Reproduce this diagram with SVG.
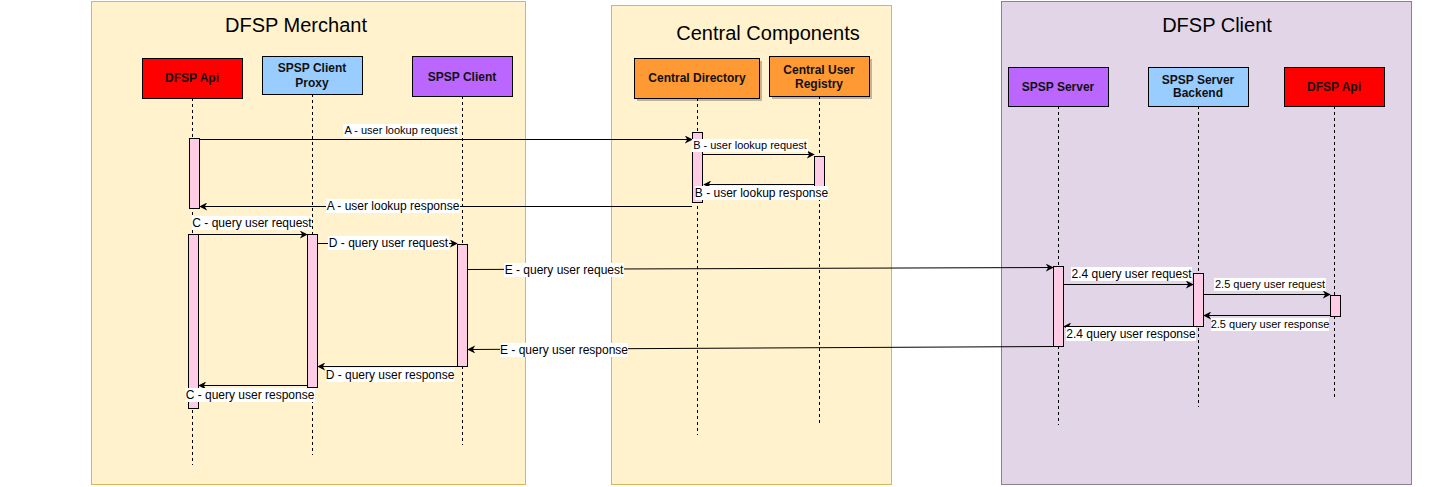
<svg xmlns="http://www.w3.org/2000/svg" width="1438" height="487" viewBox="0 0 1438 487">
<style>
.title{font-family:"Liberation Sans",Arial,sans-serif;font-size:20px;fill:#000;text-anchor:middle}
.nt{font-family:"Liberation Sans",Arial,sans-serif;font-size:12px;font-weight:bold;fill:#111;text-anchor:middle}
.lbl{font-family:"Liberation Sans",Arial,sans-serif;font-size:12px;fill:#000;text-anchor:middle}
.sm{font-size:11px}
.lbg{fill:#fff}
.life{stroke:#000;stroke-width:1;stroke-dasharray:3 3;fill:none}
.bar{fill:#ffcce6;stroke:#000;stroke-width:1}
.msg{stroke:#000;stroke-width:1;fill:none;marker-end:url(#arr)}
.node{stroke:#000;stroke-width:1}
.shadow{fill:#000;opacity:0.25}
</style>
<defs>
<marker id="arr" viewBox="0 0 10 10" refX="9" refY="5" markerWidth="8" markerHeight="8" markerUnits="userSpaceOnUse" orient="auto">
<path d="M0,0 L10,5 L0,10 L3,5 Z" fill="#000"/>
</marker>
</defs>
<rect width="1438" height="487" fill="#fff"/>
<g id="group-merchant">
<rect x="91.5" y="1.5" width="434" height="483" fill="#fff2cc" stroke="#d6b656"/>
<text class="title" x="296" y="32">DFSP Merchant</text>
</g>
<g id="group-central">
<rect x="611.5" y="5.5" width="280" height="479" fill="#fff2cc" stroke="#d6b656"/>
<text class="title" x="768" y="40">Central Components</text>
</g>
<g id="group-client">
<rect x="1001.5" y="1.5" width="410" height="483" fill="#e1d5e7" stroke="#8c7f94"/>
<text class="title" x="1217" y="32">DFSP Client</text>
</g>
<g id="lifelines">
<line class="life" x1="192.5" y1="98" x2="192.5" y2="465"/>
<line class="life" x1="312.5" y1="94" x2="312.5" y2="455"/>
<line class="life" x1="462.5" y1="96" x2="462.5" y2="445"/>
<line class="life" x1="697.5" y1="98" x2="697.5" y2="435"/>
<line class="life" x1="819.5" y1="96" x2="819.5" y2="424"/>
<line class="life" x1="1058.5" y1="106" x2="1058.5" y2="425"/>
<line class="life" x1="1198.5" y1="106" x2="1198.5" y2="407"/>
<line class="life" x1="1334.5" y1="106" x2="1334.5" y2="398"/>
</g>
<g id="node-dfsp-api-merchant">
<rect class="node" x="142.5" y="58.5" width="100" height="40" fill="#ff0000"/>
<text class="nt" x="192" y="82">DFSP Api</text>
</g>
<g id="node-spsp-client-proxy">
<rect class="node" x="262.5" y="56.5" width="100" height="38" fill="#99ccff"/>
<text class="nt" x="312" y="72">SPSP Client</text>
<text class="nt" x="312" y="87">Proxy</text>
</g>
<g id="node-spsp-client">
<rect class="node" x="412.5" y="56.5" width="100" height="40" fill="#bb66ff"/>
<text class="nt" x="462" y="81">SPSP Client</text>
</g>
<g id="node-central-directory">
<rect class="shadow" x="637" y="61" width="125" height="40"/>
<rect class="node" x="634.5" y="58.5" width="125" height="40" fill="#ff9933"/>
<text class="nt" x="697" y="82">Central Directory</text>
</g>
<g id="node-central-user-registry">
<rect class="shadow" x="772" y="59" width="100" height="40"/>
<rect class="node" x="769.5" y="56.5" width="100" height="40" fill="#ff9933"/>
<text class="nt" x="819" y="74">Central User</text>
<text class="nt" x="819" y="88">Registry</text>
</g>
<g id="node-spsp-server">
<rect class="node" x="1008.5" y="67.5" width="100" height="39" fill="#bb66ff"/>
<text class="nt" x="1058" y="91">SPSP Server</text>
</g>
<g id="node-spsp-server-backend">
<rect class="node" x="1148.5" y="67.5" width="100" height="39" fill="#99ccff"/>
<text class="nt" x="1198" y="84">SPSP Server</text>
<text class="nt" x="1198" y="97">Backend</text>
</g>
<g id="node-dfsp-api-client">
<rect class="node" x="1284.5" y="67.5" width="100" height="39" fill="#ff0000"/>
<text class="nt" x="1334" y="91">DFSP Api</text>
</g>
<g id="activations">
<rect class="bar" x="189.5" y="138.5" width="10" height="70"/>
<rect class="bar" x="188.5" y="234.5" width="10" height="174"/>
<rect class="bar" x="307.5" y="234.5" width="10" height="153"/>
<rect class="bar" x="457.5" y="244.5" width="10" height="122"/>
<rect class="bar" x="692.5" y="132.5" width="10" height="70"/>
<rect class="bar" x="814.5" y="156.5" width="10" height="30"/>
<rect class="bar" x="1053.5" y="266.5" width="10" height="80"/>
<rect class="bar" x="1193.5" y="273.5" width="10" height="53"/>
<rect class="bar" x="1330.5" y="295.5" width="10" height="21"/>
</g>
<g id="connectors">
<path class="msg" d="M200,139.5 L692,139.5"/>
<path class="msg" d="M692,206.5 L200,206.5"/>
<path class="msg" d="M703,154.5 L814,154.5"/>
<path class="msg" d="M814,184.5 L704,184.5"/>
<path class="msg" d="M199,234.5 L307,234.5"/>
<path class="msg" d="M318,243.5 L457,243.5"/>
<path class="msg" d="M468,269.5 L1053,267.5"/>
<path class="msg" d="M1064,284.5 L1193,284.5"/>
<path class="msg" d="M1204,294.5 L1330,294.5"/>
<path class="msg" d="M1330,315.5 L1204,315.5"/>
<path class="msg" d="M1193,326.5 L1064,326.5"/>
<path class="msg" d="M1053,346.5 L468,349.5"/>
<path class="msg" d="M457,366.5 L318,366.5"/>
<path class="msg" d="M307,385.5 L199,385.5"/>
</g>
<g id="labels">
<rect class="lbg" x="343" y="124" width="116" height="13"/>
<text class="lbl sm" x="401" y="134">A - user lookup request</text>
<rect class="lbg" x="326" y="199" width="134" height="14"/>
<text class="lbl" x="393" y="210">A - user lookup response</text>
<rect class="lbg" x="692" y="139" width="116" height="13"/>
<text class="lbl sm" x="750" y="149">B - user lookup request</text>
<rect class="lbg" x="695" y="186" width="133" height="14"/>
<text class="lbl" x="761.5" y="197">B - user lookup response</text>
<rect class="lbg" x="192" y="216" width="120" height="14"/>
<text class="lbl" x="252" y="227">C - query user request</text>
<rect class="lbg" x="328" y="236" width="121" height="14"/>
<text class="lbl" x="388.5" y="247">D - query user request</text>
<rect class="lbg" x="504" y="263" width="120" height="14"/>
<text class="lbl" x="564" y="274">E - query user request</text>
<rect class="lbg" x="1071" y="267" width="121" height="14"/>
<text class="lbl" x="1131.5" y="278">2.4 query user request</text>
<rect class="lbg" x="1214" y="278" width="112" height="13"/>
<text class="lbl sm" x="1270" y="288">2.5 query user request</text>
<rect class="lbg" x="1211" y="318" width="118" height="13"/>
<text class="lbl sm" x="1270" y="328">2.5 query user response</text>
<rect class="lbg" x="1066" y="327" width="130" height="14"/>
<text class="lbl" x="1131" y="338">2.4 query user response</text>
<rect class="lbg" x="500" y="343" width="128" height="14"/>
<text class="lbl" x="564" y="354">E - query user response</text>
<rect class="lbg" x="326" y="368" width="128" height="14"/>
<text class="lbl" x="390" y="379">D - query user response</text>
<rect class="lbg" x="185" y="388" width="130" height="14"/>
<text class="lbl" x="250" y="399">C - query user response</text>
</g>
</svg>
